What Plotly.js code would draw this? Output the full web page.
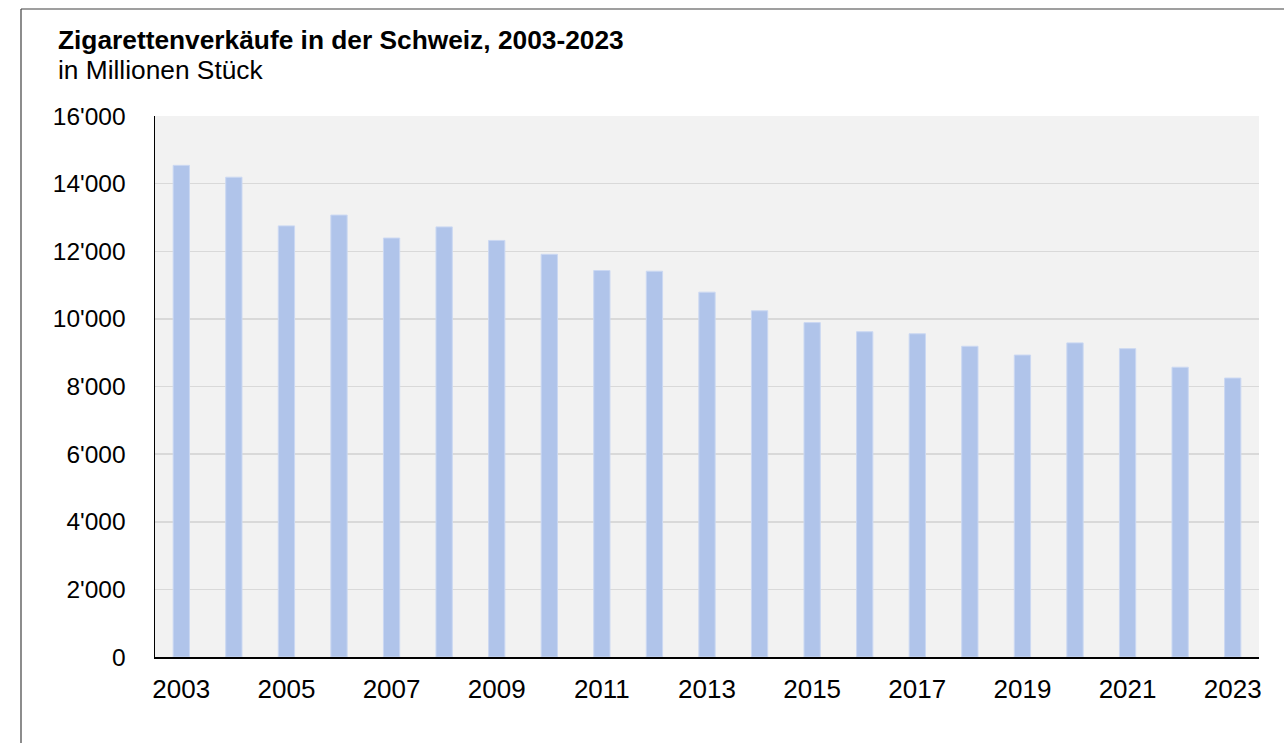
<!DOCTYPE html>
<html>
<head>
<meta charset="utf-8">
<script src="https://cdn.plot.ly/plotly-3.0.1.min.js"></script>
<style>
html,body{margin:0;padding:0;background:#fff;}
#chart{width:1284px;height:743px;}
</style>
</head>
<body>
<div id="chart"></div>
<script>
const years = [2003,2004,2005,2006,2007,2008,2009,2010,2011,2012,2013,2014,2015,2016,2017,2018,2019,2020,2021,2022,2023];
const sales = [14540,14190,12750,13070,12390,12720,12320,11910,11430,11410,10790,10240,9890,9620,9560,9190,8930,9290,9120,8570,8250];
const yTicks = [0,2000,4000,6000,8000,10000,12000,14000,16000];
const titleText = "Zigarettenverkäufe in der Schweiz, 2003-2023";
const subtitleText = "in Millionen Stück";

const W = 1284, H = 743;
const mL = 155, mR = 25, mT = 116, mB = 86;
const pw = W - mL - mR, ph = H - mT - mB;
const px = x => (x - mL) / pw;
const py = y => (H - mB - y) / ph;

const font = "Liberation Sans, Arial, Helvetica, sans-serif";

const trace = {
  type: 'bar',
  x: years,
  y: sales,
  marker: {color: '#b0c4ea', line: {color: '#cbd8f2', width: 1}},
  hoverinfo: 'x+y'
};

const layout = {
  width: W, height: H,
  margin: {l: mL, r: mR, t: mT, b: mB, pad: 0},
  paper_bgcolor: '#ffffff',
  plot_bgcolor: '#f2f2f2',
  separators: ".'",
  bargap: 0.69,
  showlegend: false,
  font: {family: font, size: 24, color: '#000'},
  xaxis: {
    type: 'linear',
    range: [2002.5, 2023.5],
    tick0: 2003, dtick: 2,
    tickformat: 'd',
    showgrid: false, zeroline: false,
    showline: true, linecolor: '#000', linewidth: 2,
    ticks: '', ticklabelstandoff: 8,
    tickfont: {family: font, size: 26, color: '#000'},
    fixedrange: true
  },
  yaxis: {
    range: [0, 16000],
    tickvals: yTicks,
    tickformat: ',d',
    showgrid: true, gridcolor: '#d9d9d9', gridwidth: 1.5,
    zeroline: false,
    showline: true, linecolor: '#000', linewidth: 1.5,
    ticks: '', ticklabelstandoff: 23,
    tickfont: {family: font, size: 24.5, color: '#000'},
    fixedrange: true
  },
  annotations: [
    {text: '<b>' + titleText + '</b>', xref: 'paper', yref: 'paper', x: px(56), y: py(40),
     xanchor: 'left', yanchor: 'middle', showarrow: false, font: {family: font, size: 26.3, color: '#000'}},
    {text: subtitleText, xref: 'paper', yref: 'paper', x: px(56), y: py(70),
     xanchor: 'left', yanchor: 'middle', showarrow: false, font: {family: font, size: 26.3, color: '#000'}}
  ],
  shapes: [
    {type: 'line', xref: 'paper', yref: 'paper', x0: px(21), x1: px(1300), y0: py(9), y1: py(9), line: {color: '#404040', width: 1.2}},
    {type: 'line', xref: 'paper', yref: 'paper', x0: px(21), x1: px(21), y0: py(9), y1: py(760), line: {color: '#404040', width: 1.2}}
  ]
};

Plotly.newPlot('chart', [trace], layout, {displayModeBar: false, staticPlot: true});
</script>
</body>
</html>
